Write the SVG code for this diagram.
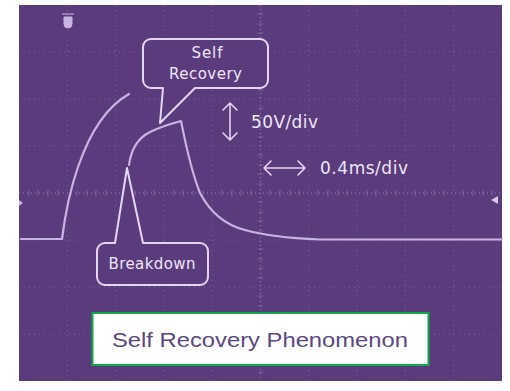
<svg xmlns="http://www.w3.org/2000/svg" width="510" height="391" viewBox="0 0 510 391">
  <style>
    .grid { stroke: #8a74a8; stroke-width: 1; stroke-dasharray: 1 4; fill: none; opacity: 0.6; }
    .axis { stroke: #9a86b6; stroke-width: 1; stroke-dasharray: 1 3; fill: none; }
    .tick { stroke: #9a86b6; stroke-width: 1; }
    .trace { stroke: #c8b4e2; stroke-width: 2.2; fill: none; stroke-linecap: round; stroke-linejoin: round; }
    .callout { stroke: #e2d6f2; stroke-width: 2; fill: #5a3c7c; stroke-linejoin: round; }
    .lbl { font-family: "DejaVu Sans", sans-serif; fill: #eee6f8; }
    .arr { stroke: #e2d6f2; stroke-width: 1.6; fill: none; stroke-linecap: round; stroke-linejoin: round; }
  </style>

  <!-- scope screen -->
  <rect x="19" y="5" width="483" height="376" fill="#5a3c7c"/>

  <!-- graticule: 10 x 8 divisions -->
  <g id="graticule">
    <path class="grid" d="M67.3 5V381M115.6 5V381M163.9 5V381M212.2 5V381M308.8 5V381M357.1 5V381M405.4 5V381M453.7 5V381"/>
    <path class="grid" d="M19 52H502M19 99H502M19 146H502M19 240H502M19 287H502M19 334H502"/>
    <path class="axis" d="M260.5 5V381M19 193H502"/>
    <path class="tick" d="M29 190v6M38 190v6M48 190v6M58 190v6M77 190v6M87 190v6M96 190v6M106 190v6M125 190v6M135 190v6M145 190v6M154 190v6M174 190v6M183 190v6M193 190v6M203 190v6M222 190v6M232 190v6M241 190v6M251 190v6M270 190v6M280 190v6M290 190v6M299 190v6M318 190v6M328 190v6M338 190v6M347 190v6M367 190v6M376 190v6M386 190v6M396 190v6M415 190v6M425 190v6M434 190v6M444 190v6M463 190v6M473 190v6M483 190v6M492 190v6" opacity="0.5"/>
    <path class="tick" d="M257.5 14h6M257.5 24h6M257.5 33h6M257.5 43h6M257.5 61h6M257.5 71h6M257.5 80h6M257.5 90h6M257.5 108h6M257.5 118h6M257.5 127h6M257.5 137h6M257.5 155h6M257.5 165h6M257.5 174h6M257.5 184h6M257.5 202h6M257.5 212h6M257.5 221h6M257.5 231h6M257.5 249h6M257.5 259h6M257.5 268h6M257.5 278h6M257.5 296h6M257.5 306h6M257.5 315h6M257.5 325h6M257.5 343h6M257.5 353h6M257.5 362h6M257.5 372h6" opacity="0.5"/>
    <!-- edge markers -->
    <path d="M62 14h12M64 17h8v7a4 4 0 0 1 -8 0z" fill="#c8b4e2" stroke="#c8b4e2" stroke-width="1"/>
    <path d="M498 196l-7 4 7 4z" fill="#d6c8ea"/>
    <path d="M19 200l4 3 -4 3z" fill="#c8b4e2"/>
  </g>

  <!-- waveform traces -->
  <g id="traces">
    <path class="trace" d="M21 239H62C65 215 70 190 78 167C88 138 104 108 129 94"/>
    <path class="trace" d="M129 165C131 150 138 138 150 132C160 127 170 124 181 121C185 140 190 168 200 193C210 212 225 225 245 230C262 235 285 238 320 239.5H502"/>
  </g>

  <!-- Self Recovery callout -->
  <g id="self-recovery">
    <path class="callout" d="M151 39H260a8 8 0 0 1 8 8V80a8 8 0 0 1 -8 8H195L160 123L163 88H151a8 8 0 0 1 -8 -8V47a8 8 0 0 1 8 -8z"/>
    <text class="lbl" x="207" y="58" font-size="15" text-anchor="middle" textLength="31" lengthAdjust="spacing">Self</text>
    <text class="lbl" x="205.5" y="79" font-size="15" text-anchor="middle" textLength="73" lengthAdjust="spacing">Recovery</text>
  </g>

  <!-- Breakdown callout -->
  <g id="breakdown">
    <path class="callout" d="M105 243H115L127 168L143 243H200a8 8 0 0 1 8 8V277a8 8 0 0 1 -8 8H105a8 8 0 0 1 -8 -8V251a8 8 0 0 1 8 -8z"/>
    <text class="lbl" x="152" y="269" font-size="15" text-anchor="middle" textLength="87" lengthAdjust="spacing">Breakdown</text>
  </g>

  <!-- scale indicators -->
  <g id="volt-scale">
    <path class="arr" d="M230 103V140M223 110L230 103L237 110M223 133L230 140L237 133"/>
    <text class="lbl" x="251" y="128" font-size="17" textLength="67" lengthAdjust="spacing">50V/div</text>
  </g>
  <g id="time-scale">
    <path class="arr" d="M264 168H305M271 161L264 168L271 175M298 161L305 168L298 175"/>
    <text class="lbl" x="320" y="174" font-size="17" textLength="88" lengthAdjust="spacing">0.4ms/div</text>
  </g>

  <!-- caption -->
  <g id="caption">
    <rect x="92.5" y="313" width="336" height="52" fill="#ffffff" stroke="#10a84a" stroke-width="2"/>
    <text x="112" y="347" font-family="'Liberation Sans', sans-serif" font-size="20" fill="#5a4682" textLength="296" lengthAdjust="spacingAndGlyphs">Self Recovery Phenomenon</text>
  </g>
</svg>
